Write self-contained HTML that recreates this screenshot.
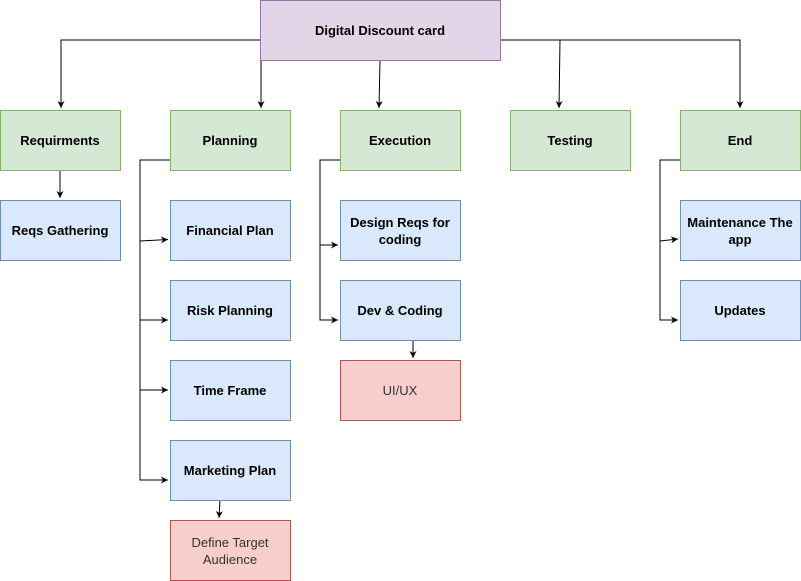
<!DOCTYPE html>
<html><head><meta charset="utf-8"><style>
html,body{margin:0;padding:0;background:#fff;width:801px;height:581px;overflow:hidden}
text{font-family:"Liberation Sans",Arial,sans-serif;font-size:13px}
</style></head><body>
<svg width="801" height="581" viewBox="0 0 801 581" xmlns="http://www.w3.org/2000/svg">
<defs><marker id="a" markerWidth="8" markerHeight="8" refX="7" refY="4" orient="auto" markerUnits="userSpaceOnUse"><path d="M0,0.5 L7,4 L0,7.5 L2,4 Z" fill="#000"/></marker></defs>
<g fill="none" stroke="#000" stroke-width="1">
<path d="M260,40 H61 V108" marker-end="url(#a)"/>
<path d="M261,60 V108" marker-end="url(#a)"/>
<path d="M380,60 L379,108" marker-end="url(#a)"/>
<path d="M560,40 L559,108" marker-end="url(#a)"/>
<path d="M500,40 H740 V108" marker-end="url(#a)"/>
<path d="M60,170 V198" marker-end="url(#a)"/>
<path d="M170,160 H140 V480 H168" marker-end="url(#a)"/>
<path d="M140,241 L168,239.5" marker-end="url(#a)"/>
<path d="M140,320 H168" marker-end="url(#a)"/>
<path d="M140,390 H168" marker-end="url(#a)"/>
<path d="M220,500 L219,518" marker-end="url(#a)"/>
<path d="M340,160 H320 V320 H338" marker-end="url(#a)"/>
<path d="M320,245 H338" marker-end="url(#a)"/>
<path d="M413,340 V358" marker-end="url(#a)"/>
<path d="M680,160 H660 V320 H678" marker-end="url(#a)"/>
<path d="M660,241 L678,239" marker-end="url(#a)"/>
</g>
<g stroke-width="1">
<rect x="260.5" y="0.5" width="240" height="60" fill="#e1d5e7" stroke="#9673a6"/>
<g fill="#d5e8d4" stroke="#82b366">
<rect x="0.5" y="110.5" width="120" height="60"/><rect x="170.5" y="110.5" width="120" height="60"/>
<rect x="340.5" y="110.5" width="120" height="60"/><rect x="510.5" y="110.5" width="120" height="60"/>
<rect x="680.5" y="110.5" width="120" height="60"/></g>
<g fill="#dae8fc" stroke="#6c8ebf">
<rect x="0.5" y="200.5" width="120" height="60"/><rect x="170.5" y="200.5" width="120" height="60"/>
<rect x="170.5" y="280.5" width="120" height="60"/><rect x="170.5" y="360.5" width="120" height="60"/>
<rect x="170.5" y="440.5" width="120" height="60"/><rect x="340.5" y="200.5" width="120" height="60"/>
<rect x="340.5" y="280.5" width="120" height="60"/><rect x="680.5" y="200.5" width="120" height="60"/>
<rect x="680.5" y="280.5" width="120" height="60"/></g>
<g fill="#f8cecc" stroke="#b85450">
<rect x="170.5" y="520.5" width="120" height="60"/><rect x="340.5" y="360.5" width="120" height="60"/></g>
</g>
<g text-anchor="middle" font-weight="bold" fill="#000">
<text x="380" y="35" font-weight="bold">Digital Discount card</text>
<text x="60" y="145" font-weight="bold">Requirments</text>
<text x="230" y="145" font-weight="bold">Planning</text>
<text x="400" y="145" font-weight="bold">Execution</text>
<text x="570" y="145" font-weight="bold">Testing</text>
<text x="740" y="145" font-weight="bold">End</text>
<text x="60" y="235" font-weight="bold">Reqs Gathering</text>
<text x="230" y="235" font-weight="bold">Financial Plan</text>
<text x="230" y="315" font-weight="bold">Risk Planning</text>
<text x="230" y="395" font-weight="bold">Time Frame</text>
<text x="230" y="475" font-weight="bold">Marketing Plan</text>
<text x="400" y="227" font-weight="bold">Design Reqs for</text>
<text x="400" y="244" font-weight="bold">coding</text>
<text x="400" y="315" font-weight="bold">Dev &amp; Coding</text>
<text x="740" y="227" font-weight="bold">Maintenance The</text>
<text x="740" y="244" font-weight="bold">app</text>
<text x="740" y="315" font-weight="bold">Updates</text>
</g>
<g text-anchor="middle" fill="#333">
<text x="230" y="547">Define Target</text>
<text x="230" y="564">Audience</text>
<text x="400" y="395">UI/UX</text>
</g>
</svg>
</body></html>
